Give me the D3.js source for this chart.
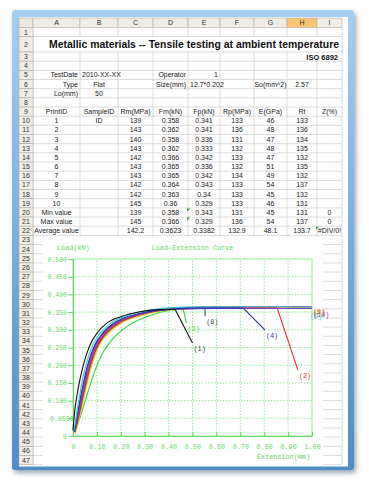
<!DOCTYPE html>
<html>
<head>
<meta charset="utf-8">
<script src="https://cdn.jsdelivr.net/npm/d3@7"></script>
<style>
  html, body { margin: 0; padding: 0; background: #fff; }
  svg { display: block; }
</style>
</head>
<body>
<svg id="chart" width="369" height="487"></svg>
<script>
// ---------- sheet data ----------
const titleText = "Metallic materials -- Tensile testing at ambient temperature"
const standardText = "ISO 6892"
const colLetters = ["A", "B", "C", "D", "E", "F", "G", "H", "I"]
const headers = ["PrintID", "SampleID", "Rm(MPa)", "Fm(kN)", "Fp(kN)", "Rp(MPa)", "E(GPa)", "Rt", "Z(%)"]
const printIds = [1, 2, 3, 4, 5, 6, 7, 8, 9, 10]
const rmValues = [139, 143, 140, 143, 142, 143, 143, 142, 142, 145]
const fmValues = [0.358, 0.362, 0.358, 0.362, 0.366, 0.365, 0.365, 0.364, 0.363, 0.36]
const fpValues = [0.341, 0.341, 0.336, 0.333, 0.342, 0.336, 0.342, 0.343, 0.34, 0.329]
const rpValues = [133, 136, 131, 132, 133, 132, 134, 133, 133, 133]
const eValues = [46, 48, 47, 48, 47, 51, 49, 54, 45, 46]
const rtValues = [133, 136, 134, 135, 132, 135, 132, 137, 132, 131]
const minRow = ["Min value", "", 139, 0.358, 0.343, 131, 45, 131, 0]
const maxRow = ["Max value", "", 145, 0.366, 0.329, 136, 54, 137, 0]
const avgRow = ["Average value", "", 142.2, 0.3623, 0.3382, 132.9, 48.1, 133.7, "#DIV/0!"]

// ---------- chart data (extension mm, load kN) ----------
const curve1 = [[0.0,0.016],[0.004,0.05],[0.022,0.135],[0.043,0.2],[0.071,0.257],[0.1,0.29],[0.14,0.318],[0.2,0.337],[0.28,0.351],[0.36,0.357],[0.427,0.358],[0.50,0.263]]
const curve2 = [[0.007,0.01],[0.02,0.05],[0.047,0.135],[0.07,0.2],[0.101,0.257],[0.135,0.29],[0.185,0.318],[0.25,0.337],[0.34,0.352],[0.45,0.359],[0.6,0.362],[0.854,0.362],[0.941,0.186]]
const curve3 = [[0.008,0.008],[0.03,0.054],[0.05,0.097],[0.085,0.172],[0.12,0.229],[0.162,0.271],[0.225,0.309],[0.308,0.337],[0.406,0.355],[0.461,0.358],[0.475,0.319]]
const curve4 = [[0.005,0.012],[0.015,0.05],[0.039,0.135],[0.061,0.2],[0.091,0.257],[0.123,0.29],[0.169,0.318],[0.233,0.338],[0.32,0.352],[0.42,0.359],[0.55,0.362],[0.711,0.362],[0.803,0.30]]
const curve5 = [[0.008,0.012],[0.023,0.05],[0.051,0.135],[0.075,0.2],[0.106,0.257],[0.142,0.29],[0.193,0.318],[0.262,0.338],[0.352,0.354],[0.46,0.362],[0.6,0.365],[0.8,0.366],[1.0,0.366]]
const curve6 = [[0.004,0.014],[0.012,0.05],[0.033,0.135],[0.054,0.2],[0.083,0.257],[0.113,0.29],[0.157,0.318],[0.22,0.339],[0.3,0.354],[0.4,0.362],[0.55,0.365],[0.7,0.365],[0.85,0.365],[1.0,0.364]]
const curve7 = [[0.006,0.011],[0.018,0.05],[0.044,0.135],[0.067,0.2],[0.098,0.257],[0.131,0.29],[0.179,0.318],[0.245,0.338],[0.335,0.353],[0.45,0.361],[0.6,0.364],[0.8,0.365],[1.0,0.365]]
const curve8 = [[0.007,0.012],[0.021,0.05],[0.048,0.135],[0.071,0.2],[0.103,0.257],[0.137,0.29],[0.187,0.318],[0.255,0.338],[0.345,0.354],[0.45,0.362],[0.552,0.364],[0.553,0.339]]
const curve9 = [[0.01,0.008],[0.026,0.05],[0.055,0.135],[0.079,0.2],[0.111,0.257],[0.148,0.29],[0.2,0.318],[0.27,0.337],[0.36,0.352],[0.47,0.36],[0.62,0.363],[0.8,0.363],[1.0,0.363]]
const curve10 = [[0.006,0.013],[0.017,0.05],[0.042,0.135],[0.064,0.2],[0.094,0.257],[0.127,0.29],[0.175,0.318],[0.24,0.337],[0.33,0.351],[0.44,0.358],[0.6,0.36],[0.8,0.36],[1.0,0.36]]
const brokenIds = [1, 2, 3, 4, 8]   // last point of these is the end of the fracture drop

const xTickValues = [0, 0.1, 0.2, 0.3, 0.4, 0.5, 0.6, 0.7, 0.8, 0.9, 1.0]
const xTickLabels = ["0", "0.10", "0.20", "0.30", "0.40", "0.50", "0.60", "0.70", "0.80", "0.90", "1.00"]
const yTickValues = [0, 0.05, 0.1, 0.15, 0.2, 0.25, 0.3, 0.35, 0.4, 0.45, 0.5]
const yTickLabels = ["0", "0.0500", "0.100", "0.150", "0.200", "0.250", "0.300", "0.350", "0.400", "0.450", "0.500"]

// ---------- layout ----------
const colEdges = [33, 80, 118, 153, 188, 220, 254, 287, 317, 342]
const rowCount = 47
function rowTop(n) {
    if (n === 1) return 27.5
    if (n === 2) return 36.5
    return 52 + (n - 3) * 9.17
}
function rowBottom(n) {
    if (n === 1) return 36.5
    if (n === 2) return 52
    return rowTop(n) + 9.17
}
const sansFont = "'Liberation Sans', Arial, sans-serif"
const monoFont = "'Liberation Mono', 'DejaVu Sans Mono', monospace"
const green = "#5cd85c"
const gridGreen = "#7fe37f"

const svg = d3.select("#chart")
const defs = svg.append("defs")

const filter = defs.append("filter").attr("id", "shadow")
    .attr("x", "-5%").attr("y", "-5%").attr("width", "115%").attr("height", "115%")
filter.append("feDropShadow")
    .attr("dx", 2).attr("dy", 3).attr("stdDeviation", 2.5)
    .attr("flood-color", "#4a5a70").attr("flood-opacity", 0.55)

const grad = defs.append("linearGradient").attr("id", "frameBlue")
    .attr("x1", 0).attr("y1", 0).attr("x2", 0).attr("y2", 1)
grad.append("stop").attr("offset", "0%").attr("stop-color", "#a3cff2")
grad.append("stop").attr("offset", "100%").attr("stop-color", "#4d8dca")

// window frame
svg.append("rect")
    .attr("x", 12).attr("y", 10).attr("width", 342).attr("height", 460).attr("rx", 3)
    .attr("fill", "url(#frameBlue)")
    .attr("filter", "url(#shadow)")
svg.append("rect")
    .attr("x", 19).attr("y", 17).attr("width", 329).attr("height", 449.5)
    .attr("fill", "#fff")

// cell grid
const grid = svg.append("g").attr("stroke", "#d2d2d2").attr("stroke-width", 0.8)
for (let n = 1; n <= rowCount; n++) {
    grid.append("line")
        .attr("x1", colEdges[0]).attr("x2", colEdges[colEdges.length - 1])
        .attr("y1", rowBottom(n)).attr("y2", rowBottom(n))
    colEdges.forEach((cx, i) => {
        if (n === 2 && i > 0 && i < colEdges.length - 1) return   // merged title row
        if (n === 3 && i === 8) return                            // ISO text overflows
        grid.append("line")
            .attr("x1", cx).attr("x2", cx)
            .attr("y1", rowTop(n)).attr("y2", rowBottom(n))
    })
}

// column headers
const headG = svg.append("g")
headG.append("rect").attr("x", 19).attr("y", 18).attr("width", 14).attr("height", 9.5)
    .attr("fill", "#ebe9e0").attr("stroke", "#a8a89c").attr("stroke-width", 0.6)
colLetters.forEach((c, i) => {
    const x0 = colEdges[i], x1 = colEdges[i + 1]
    headG.append("rect")
        .attr("x", x0).attr("y", 18).attr("width", x1 - x0).attr("height", 9.5)
        .attr("fill", c === "H" ? "#f9c574" : "#efede5")
        .attr("stroke", "#b0ada0").attr("stroke-width", 0.6)
    headG.append("text")
        .attr("x", (x0 + x1) / 2).attr("y", 25.3)
        .attr("text-anchor", "middle")
        .attr("font-family", sansFont).attr("font-size", 7)
        .attr("fill", "#333")
        .text(c)
})

// row headers
for (let n = 1; n <= rowCount; n++) {
    headG.append("rect")
        .attr("x", 19).attr("y", rowTop(n)).attr("width", 14).attr("height", rowBottom(n) - rowTop(n))
        .attr("fill", "#efede5").attr("stroke", "#b0ada0").attr("stroke-width", 0.6)
    headG.append("text")
        .attr("x", 26).attr("y", (rowTop(n) + rowBottom(n)) / 2 + 2.5)
        .attr("text-anchor", "middle")
        .attr("font-family", sansFont).attr("font-size", 7)
        .attr("fill", "#333")
        .text(n)
}

// cell texts
const cells = svg.append("g").attr("font-family", sansFont).attr("font-size", 7).attr("fill", "#1a1a1a")
function cellText(row, col, value, align) {
    if (value === "" || value === undefined) return
    const x0 = colEdges[col], x1 = colEdges[col + 1]
    let x = (x0 + x1) / 2, anchor = "middle"
    if (align === "left") { x = x0 + 2; anchor = "start" }
    if (align === "right") { x = x1 - 2; anchor = "end" }
    cells.append("text")
        .attr("x", x).attr("y", (rowTop(row) + rowBottom(row)) / 2 + 2.5)
        .attr("text-anchor", anchor)
        .text(value)
}

const title = svg.append("text")
    .attr("x", 194).attr("y", 47.8)
    .attr("text-anchor", "middle")
    .attr("font-family", sansFont).attr("font-weight", "bold").attr("font-size", 10.4)
    .attr("fill", "#111")
    .text(titleText)
const tw = title.node().getComputedTextLength()
title.attr("font-size", 10.4 * 290 / tw)

svg.append("text")
    .attr("x", 338).attr("y", 59.5)
    .attr("text-anchor", "end")
    .attr("font-family", sansFont).attr("font-weight", "bold").attr("font-size", 7.5)
    .attr("fill", "#111")
    .text(standardText)

cellText(5, 0, "TestDate", "right")
cellText(5, 1, "2010-XX-XX", "left")
cellText(5, 3, "Operator", "right")
cellText(5, 4, "1", "right")
cellText(6, 0, "Type", "right")
cellText(6, 1, "Flat")
cellText(6, 3, "Size(mm)", "right")
cellText(6, 4, "12.7*0.202", "left")
cellText(6, 6, "So(mm^2)")
cellText(6, 7, "2.57")
cellText(7, 0, "Lo(mm)", "right")
cellText(7, 1, "50")

headers.forEach((h, i) => cellText(9, i, h))
printIds.forEach((id, i) => {
    const r = 10 + i
    cellText(r, 0, id)
    if (i === 0) cellText(r, 1, "ID")
    cellText(r, 2, rmValues[i])
    cellText(r, 3, fmValues[i])
    cellText(r, 4, fpValues[i])
    cellText(r, 5, rpValues[i])
    cellText(r, 6, eValues[i])
    cellText(r, 7, rtValues[i])
})
;[minRow, maxRow, avgRow].forEach((row, k) => {
    row.forEach((v, i) => cellText(20 + k, i, v))
})

// error indicator triangles
;[[20, 4], [21, 4], [22, 8]].forEach(([r, c]) => {
    const x0 = colEdges[c] - 1, y0 = rowTop(r) + 0.5
    svg.append("path")
        .attr("d", `M${x0},${y0}L${x0 + 3},${y0}L${x0},${y0 + 3}Z`)
        .attr("fill", "#1e9a2a")
})

// ---------- embedded chart ----------
svg.append("rect")
    .attr("x", 43).attr("y", 237).attr("width", 280).attr("height", 229)
    .attr("fill", "#fff")

const x = d3.scaleLinear().domain([0, 1]).range([73, 312])
const y = d3.scaleLinear().domain([0, 0.5]).range([436, 259])

const chart = svg.append("g")

// dotted grid
chart.append("g")
    .selectAll("line")
    .data(xTickValues.slice(1, -1))
    .join("line")
    .attr("x1", d => x(d)).attr("x2", d => x(d))
    .attr("y1", y(0)).attr("y2", y(0.5))
    .attr("stroke", gridGreen).attr("stroke-width", 0.9).attr("stroke-dasharray", "1.4,1.6")
chart.append("g")
    .selectAll("line")
    .data(yTickValues.slice(1, -1))
    .join("line")
    .attr("x1", x(0)).attr("x2", x(1))
    .attr("y1", d => y(d)).attr("y2", d => y(d))
    .attr("stroke", gridGreen).attr("stroke-width", 0.9).attr("stroke-dasharray", "1.4,1.6")

chart.append("rect")
    .attr("x", x(0)).attr("y", y(0.5))
    .attr("width", x(1) - x(0)).attr("height", y(0) - y(0.5))
    .attr("fill", "none").attr("stroke", "#8feb8f").attr("stroke-width", 1)

// axes
const yAxis = d3.axisLeft(y)
    .tickValues(yTickValues)
    .tickFormat((d, i) => yTickLabels[i])
    .tickSizeInner(5).tickSizeOuter(0).tickPadding(1)
const gy = chart.append("g")
    .attr("transform", `translate(${x(0)},0)`)
    .call(yAxis)
    .attr("color", green)
    .attr("font-family", monoFont).attr("font-size", 6.5)
gy.selectAll(".tick text").filter(d => d === 0.05).attr("x", 0.5)

const xAxis = d3.axisBottom(x)
    .tickValues(xTickValues)
    .tickFormat((d, i) => xTickLabels[i])
    .tickSizeInner(-4).tickSizeOuter(0).tickPadding(8)
chart.append("g")
    .attr("transform", `translate(0,${y(0)})`)
    .call(xAxis)
    .attr("color", green)
    .attr("font-family", monoFont).attr("font-size", 6.8)

chart.append("text")
    .attr("x", 57).attr("y", 249.5)
    .attr("font-family", monoFont).attr("font-size", 6.8)
    .attr("fill", green)
    .text("Load(kN)")
chart.append("text")
    .attr("x", (x(0) + x(1)) / 2).attr("y", 249.5)
    .attr("text-anchor", "middle")
    .attr("font-family", monoFont).attr("font-size", 6.8)
    .attr("fill", green)
    .text("Load-Extension Curve")
chart.append("text")
    .attr("x", 310).attr("y", 458.5)
    .attr("text-anchor", "end")
    .attr("font-family", monoFont).attr("font-size", 6.8)
    .attr("fill", green)
    .text("Extension(mm)")

// curves
const curveData = { 1: curve1, 2: curve2, 3: curve3, 4: curve4, 5: curve5, 6: curve6, 7: curve7, 8: curve8, 9: curve9, 10: curve10 }
const curveColors = { 1: "#111111", 2: "#e02a2a", 3: "#33d633", 4: "#2233a8", 5: "#c8692a", 6: "#2ec8d0", 7: "#d02ac2", 8: "#4a4a4a", 9: "#e0dc24", 10: "#7a3fc0" }
const drawOrder = [3, 9, 5, 8, 2, 7, 10, 4, 6, 1]

const smooth = d3.line().x(d => x(d[0])).y(d => y(d[1])).curve(d3.curveMonotoneX)
const straight = d3.line().x(d => x(d[0])).y(d => y(d[1]))

const curvesG = chart.append("g").attr("fill", "none").attr("stroke-width", 1.1)
drawOrder.forEach(id => {
    const pts = curveData[id]
    const broken = brokenIds.includes(id)
    const rise = broken ? pts.slice(0, -1) : pts
    curvesG.append("path").attr("d", smooth(rise)).attr("stroke", curveColors[id])
    if (broken) {
        curvesG.append("path").attr("d", straight(pts.slice(-2))).attr("stroke", curveColors[id])
    }
})

// curve number labels at the end of each curve
const labelOrder = [6, 10, 7, 9, 1, 3, 8, 4, 2, 5]
const labelsG = chart.append("g").attr("font-family", monoFont).attr("font-size", 6.8)
labelOrder.forEach(id => {
    const end = curveData[id][curveData[id].length - 1]
    const off = id === 6 ? 3 : 0
    labelsG.append("text")
        .attr("x", x(end[0]) + 1 - off)
        .attr("y", y(end[1]) + 8 + off)
        .attr("fill", id === 1 ? "#333" : curveColors[id])
        .text(`(${id})`)
})
</script>
</body>
</html>
